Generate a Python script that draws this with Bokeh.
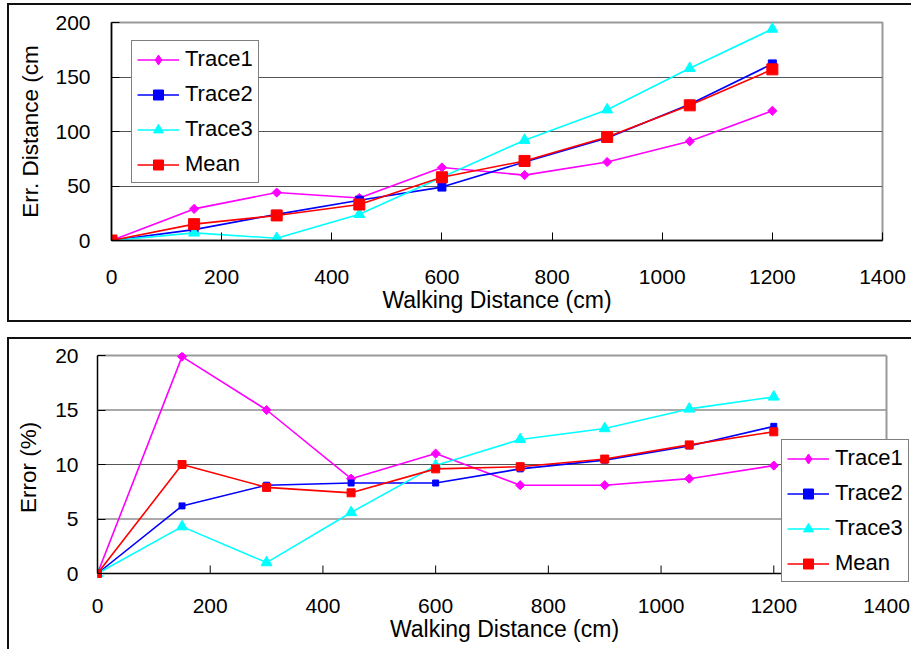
import math
from bokeh.plotting import figure
from bokeh.layouts import column
from bokeh.models import Range1d, FixedTicker, Legend, LegendItem
from bokeh.embed import file_html
from bokeh.resources import INLINE

# ---------------- data ----------------
walk = [0, 150, 300, 450, 600, 750, 900, 1050, 1200]

err_trace1 = [0, 29, 44, 39, 67, 60, 72, 91, 119]
err_trace2 = [0, 10, 24, 37, 49, 72, 94, 125, 162]
err_trace3 = [0, 7, 2, 24, 58, 92, 120, 158, 194]
err_mean = [0, 15, 23, 33, 58, 73, 95, 124, 157]

pct_trace1 = [0, 19.9, 15.0, 8.7, 11.0, 8.1, 8.1, 8.7, 9.9]
pct_trace2 = [0, 6.2, 8.1, 8.3, 8.3, 9.6, 10.4, 11.7, 13.5]
pct_trace3 = [0, 4.3, 1.0, 5.6, 9.9, 12.3, 13.3, 15.1, 16.2]
pct_mean = [0, 10.0, 7.9, 7.4, 9.6, 9.8, 10.5, 11.8, 13.0]

series_names = ["Trace1", "Trace2", "Trace3", "Mean"]
x_ticks = [0, 200, 400, 600, 800, 1000, 1200, 1400]
top_y_ticks = [0, 50, 100, 150, 200]
bot_y_ticks = [0, 5, 10, 15, 20]

FONT = "Liberation Sans"
colors = ["#FF00FF", "#0000FF", "#00FFFF", "#FF0000"]
markers = ["square", "square", "triangle", "square"]
legend_markers = ["diamond", "square", "triangle", "square"]
angles = [math.pi / 4, 0, 0, 0]
GRID = "#555555"
EDGE = "#9a9a9a"
OUTLINE = "2px solid #111111"


def style(p, ylabel, yticks, xstand, xtitle_stand, ystand):
    p.xaxis.ticker = FixedTicker(ticks=x_ticks)
    p.yaxis.ticker = FixedTicker(ticks=yticks)
    for ax in (p.xaxis[0], p.yaxis[0]):
        ax.major_label_text_font = FONT
        ax.major_label_text_font_size = "21px"
        ax.major_label_text_color = "black"
        ax.axis_label_text_font = FONT
        ax.axis_label_text_font_style = "normal"
        ax.axis_label_text_color = "black"
        ax.axis_line_color = "black"
        ax.axis_line_width = 1.5
        ax.major_tick_in = 8
        ax.major_tick_out = 0
        ax.major_tick_line_color = "black"
        ax.minor_tick_line_color = None
    p.xaxis.axis_label = "Walking Distance (cm)"
    p.xaxis.axis_label_text_font_size = "23px"
    p.yaxis.axis_label = ylabel
    p.yaxis.axis_label_text_font_size = "22.5px"
    p.xaxis.major_label_standoff = xstand
    p.xaxis.axis_label_standoff = xtitle_stand
    p.yaxis.major_label_standoff = ystand
    p.yaxis.axis_label_standoff = 30 - ystand
    p.xgrid.visible = False
    p.background_fill_color = "white"
    p.border_fill_color = "white"


def draw(p, ys, sizes):
    items = []
    for name, y, c, m, lm, a, s in zip(series_names, ys, colors, markers,
                                       legend_markers, angles, sizes):
        ln = p.line(walk, y, line_color=c, line_width=1.6)
        if lm != m:
            # diamond key for the legend (legend keys are drawn unrotated);
            # it lies under the rotated-square markers of the plot
            key = p.scatter(walk, y, marker=lm, size=s, fill_color=c, line_color=c)
        sc = p.scatter(walk, y, marker=m, angle=a, size=s, fill_color=c, line_color=c)
        if lm == m:
            key = sc
        items.append(LegendItem(label=name, renderers=[ln, key]))
    return items


def legend(items, loc):
    lg = Legend(items=items, location=loc)
    lg.label_text_font = FONT
    lg.label_text_font_size = "22px"
    lg.label_text_color = "black"
    lg.glyph_width = 42
    lg.glyph_height = 25
    lg.label_height = 20
    lg.spacing = 9
    lg.padding = 5
    lg.margin = 0
    lg.label_standoff = 6
    lg.border_line_color = "black"
    lg.border_line_width = 1.2
    lg.background_fill_color = "white"
    lg.background_fill_alpha = 1.0
    return lg


# ---------------- top panel ----------------
p1 = figure(width=902, height=315, output_backend="svg", toolbar_location=None,
            x_range=Range1d(0, 1400), y_range=Range1d(0, 200),
            min_border_left=102, min_border_right=29, min_border_top=17, min_border_bottom=80)
p1.frame_align = False
p1.margin = (5, 0, 0, 9)
p1.styles = {"outline": OUTLINE}
style(p1, "Err. Distance (cm", top_y_ticks, 29, 0, 21)
p1.ygrid.grid_line_color = GRID
p1.ygrid.grid_line_width = 1.2
p1.outline_line_color = EDGE
p1.outline_line_width = 2
items1 = draw(p1, [err_trace1, err_trace2, err_trace3, err_mean], [6.5, 8, 11, 11])
p1.add_layout(legend(items1, (20, 57)))

# ---------------- bottom panel ----------------
# The frame is widened to the right and downward so that the legend, which
# overhangs the plot box, is not clipped. The visible plot box (0..1400, 0..20),
# its grid, its bottom axis line and tick marks are drawn with segments.
PX_TOP, PX_ZERO, PX_FRAME_BOTTOM = 352, 573, 582
px_per_unit = (PX_ZERO - 355) / 20
x_end2 = 1400 * (911 - 97) / (886 - 97)
y_end2 = (PX_ZERO - PX_TOP) / px_per_unit
y_start2 = -(PX_FRAME_BOTTOM - PX_ZERO) / px_per_unit
tick_len = 8 / px_per_unit

p2 = figure(width=902, height=310, output_backend="svg", toolbar_location=None,
            x_range=Range1d(0, x_end2), y_range=Range1d(y_start2, y_end2),
            min_border_left=88, min_border_right=0, min_border_top=13, min_border_bottom=67)
p2.frame_align = False
p2.margin = (19, 0, 0, 9)
p2.styles = {"outline": OUTLINE}
style(p2, "Error (%)", bot_y_ticks, 16, 0, 19)
p2.xaxis.bounds = (x_ticks[0], x_ticks[-1])
p2.xaxis.axis_line_color = None
p2.xaxis.major_tick_line_color = None
p2.yaxis.bounds = (bot_y_ticks[0], bot_y_ticks[-1])
p2.ygrid.visible = False
p2.outline_line_color = None
inner = bot_y_ticks[1:-1]
p2.segment(x0=[x_ticks[0]] * len(inner), x1=[x_ticks[-1]] * len(inner), y0=inner, y1=inner,
           line_color=GRID, line_width=1.2)
p2.segment(x0=[x_ticks[0], x_ticks[-1]], x1=[x_ticks[-1], x_ticks[-1]],
           y0=[bot_y_ticks[-1], bot_y_ticks[0]], y1=[bot_y_ticks[-1], bot_y_ticks[-1]],
           line_color=EDGE, line_width=2)
# bottom axis line and inward tick marks at y = 0
p2.segment(x0=[x_ticks[0]], x1=[x_ticks[-1]], y0=[bot_y_ticks[0]], y1=[bot_y_ticks[0]],
           line_color="black", line_width=1.5)
p2.segment(x0=x_ticks[1:], x1=x_ticks[1:], y0=[bot_y_ticks[0]] * (len(x_ticks) - 1),
           y1=[bot_y_ticks[0] + tick_len] * (len(x_ticks) - 1),
           line_color="black", line_width=1)
items2 = draw(p2, [pct_trace1, pct_trace2, pct_trace3, pct_mean], [6.5, 6, 11, 8])
p2.add_layout(legend(items2, (684, 0)))

layout = column(p1, p2, spacing=0)
open("out.html", "w").write(file_html(layout, INLINE))
